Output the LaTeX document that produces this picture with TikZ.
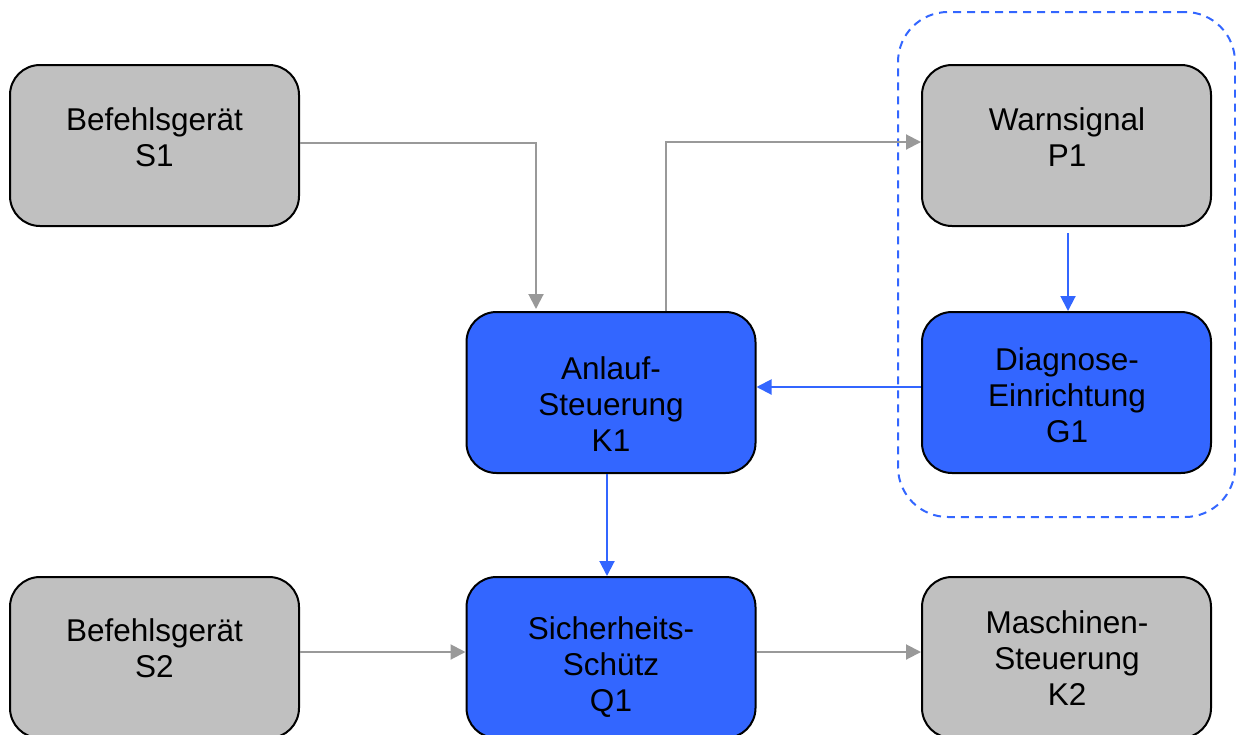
\documentclass[tikz,border=0pt]{standalone}
\usepackage{fontspec}
\setmainfont{Liberation Sans}
\usetikzlibrary{arrows.meta}
\definecolor{boxgray}{HTML}{C0C0C0}
\definecolor{boxblue}{HTML}{3366FF}
\definecolor{linegray}{HTML}{999999}
\begin{document}
\begin{tikzpicture}[x=1pt,y=-1pt,
 box/.style={draw=black,line width=2pt,rounded corners=30pt,minimum width=289pt,minimum height=161pt,inner sep=0pt},
 graybox/.style={box,fill=boxgray},
 bluebox/.style={box,fill=boxblue},
 lbl/.style={align=center,font=\fontsize{31.5}{36}\selectfont,inner sep=0pt},
 garrow/.style={draw=linegray,line width=2pt,-{Triangle[width=15pt,length=15pt]}},
 barrow/.style={draw=boxblue,line width=2pt,-{Triangle[width=15pt,length=15pt]}},
 grpbox/.style={draw=boxblue,line width=2pt,dash pattern=on 8pt off 6pt,rounded corners=50pt,minimum width=337pt,minimum height=505pt,inner sep=0pt}
]
\useasboundingbox (0,0) rectangle (1236,734);
\node[grpbox] (grp) at (1066.5,264.5) {};

\node[graybox] (S1) at (154.5,145.5) {};
\node[graybox] (P1) at (1066.5,145.5) {};
\node[bluebox] (K1) at (611,392.5) {};
\node[bluebox] (G1) at (1066.5,392.5) {};
\node[graybox] (S2) at (154.5,657.5) {};
\node[bluebox] (Q1) at (611,657.5) {};
\node[graybox] (K2) at (1066.5,657.5) {};

\node[lbl] (S1t) at (154.5,137) {Befehlsgerät\\S1};
\node[lbl] (P1t) at (1067,137) {Warnsignal\\P1};
\node[lbl] (K1t) at (611,404) {Anlauf-\\Steuerung\\K1};
\node[lbl] (G1t) at (1067,395) {Diagnose-\\Einrichtung\\G1};
\node[lbl] (S2t) at (154.5,648) {Befehlsgerät\\S2};
\node[lbl] (Q1t) at (611,667) {Sicherheits-\\Schütz\\Q1};
\node[lbl] (K2t) at (1067,658) {Maschinen-\\Steuerung\\K2};

\draw[garrow] ([yshift=2.5pt]S1.east) -| ([xshift=-75pt,yshift=2pt]K1.north);
\draw[garrow] ([xshift=55pt]K1.north) |- ([yshift=3.5pt]P1.west);
\draw[barrow] ([xshift=1.5pt,yshift=-6pt]P1.south) -- ([xshift=1.5pt]G1.north);
\draw[barrow] ([yshift=5.5pt]G1.west) -- ([yshift=5.5pt]K1.east);
\draw[barrow] ([xshift=-4pt]K1.south) -- ([xshift=-4pt]Q1.north);
\draw[garrow] ([yshift=5.5pt]S2.east) -- ([yshift=5.5pt]Q1.west);
\draw[garrow] ([yshift=5.5pt]Q1.east) -- ([yshift=5.5pt]K2.west);
\end{tikzpicture}
\end{document}
